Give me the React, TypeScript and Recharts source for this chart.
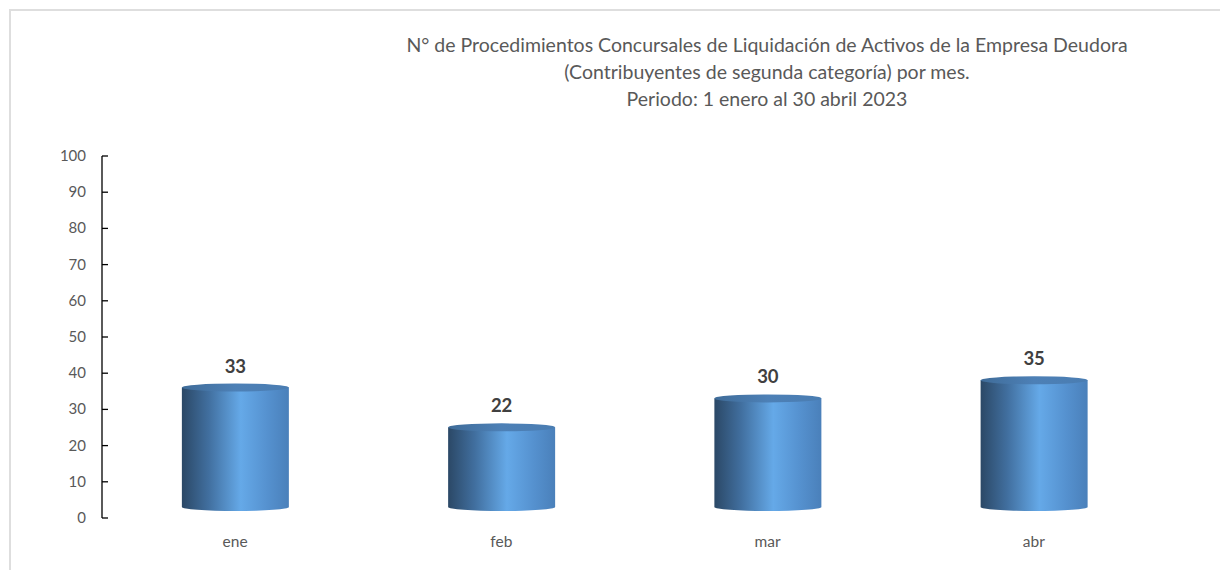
import React from "react";
import { BarChart, Bar, XAxis, YAxis, LabelList } from "recharts";

const months = ["ene", "feb", "mar", "abr"];
const counts = [33, 22, 30, 35];
const yTicks = [0, 10, 20, 30, 40, 50, 60, 70, 80, 90, 100];
const titleLines = [
  "N° de Procedimientos Concursales de Liquidación de Activos de la Empresa Deudora",
  "(Contribuyentes de segunda categoría) por mes.",
  "Periodo: 1 enero al 30 abril 2023",
];

const data = months.map((m, i) => ({ month: m, value: counts[i] }));

const FONT = "Lato, 'Open Sans', sans-serif";
const SHIFT = 11;
const RY = 4;

const Cylinder = (props: any) => {
  const { x, y, width, height } = props;
  if (width == null || height == null) return null;
  const top = y - SHIFT;
  const bottom = y + height - SHIFT;
  const cx = x + width / 2;
  const rx = width / 2;
  return (
    <g>
      <path
        d={`M${x},${top} L${x},${bottom} A${rx},${RY} 0 0 0 ${x + width},${bottom} L${x + width},${top} Z`}
        fill="url(#cylBody)"
      />
      <ellipse cx={cx} cy={top} rx={rx} ry={RY} fill="url(#cylTop)" />
    </g>
  );
};

const YTick = (props: any) => {
  const { y, payload } = props;
  return (
    <g>
      <line x1={102} x2={108} y1={y} y2={y} stroke="#000" strokeWidth={1.3} />
      <text x={86} y={y} dy={5} textAnchor="end" fill="#595959" fontSize={15} fontFamily={FONT}>
        {payload.value}
      </text>
    </g>
  );
};

const XTick = (props: any) => {
  const { x, payload } = props;
  return (
    <text x={x} y={547} textAnchor="middle" fill="#595959" fontSize={15.5} fontFamily={FONT}>
      {payload.value}
    </text>
  );
};

const ValueLabel = (props: any) => {
  const { x, y, width, value } = props;
  return (
    <text
      x={x + width / 2}
      y={y - SHIFT - 15}
      textAnchor="middle"
      fill="#404040"
      fontSize={18.5}
      fontWeight="bold"
      fontFamily={FONT}
    >
      {value}
    </text>
  );
};

export default function App() {
  return (
    <div style={{ position: "absolute", left: 0, top: 0, width: 1220, height: 570, background: "#fff", overflow: "hidden" }}>
      <div
        style={{
          position: "absolute",
          left: 9,
          top: 9,
          width: 1240,
          height: 600,
          border: "2px solid #dedede",
          boxSizing: "border-box",
        }}
      />
      <svg style={{ position: "absolute", left: 0, top: 0 }} width={1220} height={130}>
        {titleLines.map((t, i) => (
          <text
            key={i}
            x={767}
            y={52 + i * 27}
            textAnchor="middle"
            fill="#595959"
            fontSize={19.5}
            fontFamily={FONT}
          >
            {t}
          </text>
        ))}
      </svg>
      <div style={{ position: "absolute", left: 0, top: 0 }}>
        <BarChart
          width={1220}
          height={570}
          data={data}
          margin={{ top: 156, right: 53, bottom: 0, left: 0 }}
          barCategoryGap="30%"
        >
          <defs>
            <linearGradient id="cylBody" x1="0" y1="0" x2="1" y2="0">
              <stop offset="0%" stopColor="#2b4866" />
              <stop offset="25%" stopColor="#416f9f" />
              <stop offset="55%" stopColor="#65a9e8" />
              <stop offset="80%" stopColor="#5591cf" />
              <stop offset="100%" stopColor="#4a80ba" />
            </linearGradient>
            <linearGradient id="cylTop" x1="0" y1="0" x2="1" y2="0">
              <stop offset="0%" stopColor="#3f6c99" />
              <stop offset="50%" stopColor="#4d80b6" />
              <stop offset="100%" stopColor="#4a7db2" />
            </linearGradient>
          </defs>
          <XAxis
            dataKey="month"
            axisLine={false}
            tickLine={false}
            height={52}
            tick={<XTick />}
            interval={0}
          />
          <YAxis
            domain={[0, 100]}
            ticks={yTicks}
            width={102}
            axisLine={{ stroke: "#000", strokeWidth: 1.3 }}
            tickLine={false}
            tick={<YTick />}
            interval={0}
          />
          <Bar dataKey="value" shape={<Cylinder />} isAnimationActive={false}>
            <LabelList dataKey="value" content={<ValueLabel />} />
          </Bar>
        </BarChart>
      </div>
    </div>
  );
}
